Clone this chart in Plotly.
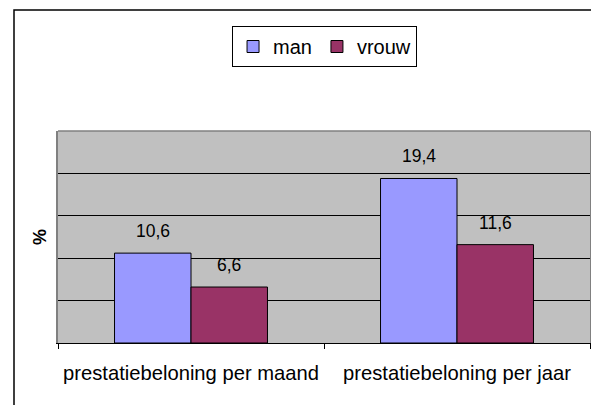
import plotly.graph_objects as go

categories = ["prestatiebeloning per maand", "prestatiebeloning per jaar"]
series_names = ["man", "vrouw"]
man_values = [10.6, 19.4]
vrouw_values = [6.6, 11.6]
series_values = [man_values, vrouw_values]
colors = ["#9999FF", "#993366"]

# the page body has an 8px margin, so the figure is drawn 8px right/down
W, H = 591, 397
ml, mr, mt, mb = 50, 9, 123, 62
bargap = 0.425
plot_w = W - ml - mr
plot_h = H - mt - mb
cat_w = plot_w / len(categories)
bar_w = cat_w * (1 - bargap) / len(series_names)

fig = go.Figure()
for name, vals, col in zip(series_names, series_values, colors):
    fig.add_trace(go.Bar(
        x=categories, y=vals, name=name,
        marker=dict(color=col, line=dict(color="black", width=1)),
    ))

# data labels
for i, vals in enumerate(series_values):
    off = (i - (len(series_names) - 1) / 2) * bar_w
    for c, v in zip(categories, vals):
        fig.add_annotation(
            x=c, y=v, text=f"{v:.1f}".replace(".", ","),
            showarrow=False, xshift=off, yshift=10, yanchor="bottom",
            font=dict(family="Liberation Sans, Arial", size=17.5, color="black"),
        )

# top border of plot area
fig.add_shape(type="line", xref="paper", yref="paper", x0=0, x1=1, y0=1, y1=1,
              line=dict(color="#808080", width=1.5))
# outer chart frame (partially outside the page)
fig.add_shape(type="rect", xref="paper", yref="paper",
              x0=(6 - ml) / plot_w, x1=1.2,
              y0=-0.5, y1=(H - mb - 2) / plot_h,
              line=dict(color="black", width=1.5), fillcolor="rgba(0,0,0,0)")

fig.update_layout(
    width=W, height=H,
    margin=dict(l=ml, r=mr, t=mt, b=mb, autoexpand=False),
    paper_bgcolor="white", plot_bgcolor="#C0C0C0",
    barmode="group", bargap=bargap, bargroupgap=0,
    font=dict(family="Liberation Sans, Arial", color="black"),
    showlegend=True,
    legend=dict(
        orientation="h", x=0.501, xanchor="center",
        y=(H - mb - 18) / plot_h, yanchor="top",
        bordercolor="black", borderwidth=1, bgcolor="white",
        font=dict(size=20), itemwidth=30,
    ),
    xaxis=dict(
        showline=True, linecolor="black", linewidth=1,
        ticks="outside", tickson="boundaries", ticklen=5, tickcolor="black",
        tickfont=dict(size=20.2), ticklabelstandoff=12,
        showgrid=False,
    ),
    yaxis=dict(
        range=[0, 25], dtick=5, showticklabels=False,
        showgrid=True, gridcolor="black", gridwidth=1, zeroline=False,
        showline=True, linecolor="#808080", linewidth=1.5, mirror=True,
        title=dict(text="%", font=dict(size=18, weight="bold"), standoff=5),
    ),
)

fig.write_html("out.html")
